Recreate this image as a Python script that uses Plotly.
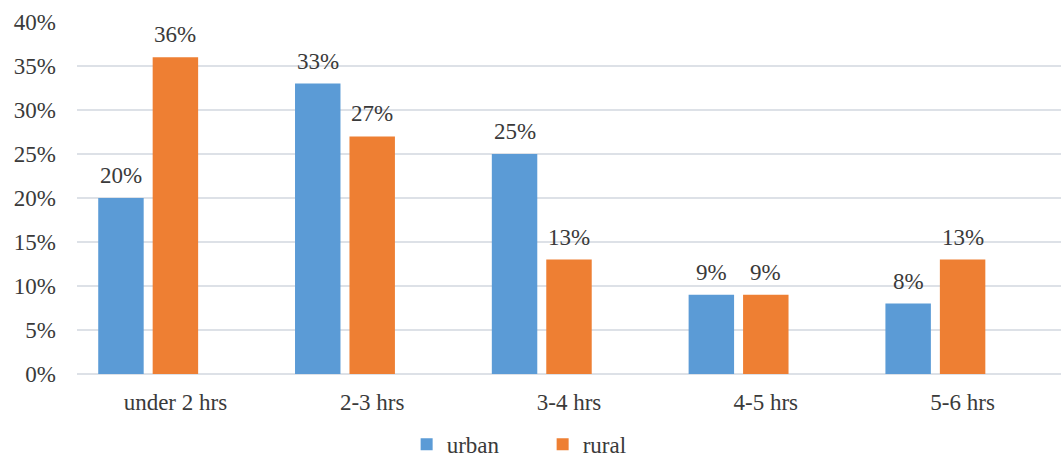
import plotly.graph_objects as go

# Daily screen time by location (share of respondents, %)
categories = ["under 2 hrs", "2-3 hrs", "3-4 hrs", "4-5 hrs", "5-6 hrs"]
urban = [20, 33, 25, 9, 8]
rural = [36, 27, 13, 9, 13]
y_ticks = [0, 5, 10, 15, 20, 25, 30, 35, 40]

FONT = "Times New Roman, Liberation Serif, DejaVu Serif, serif"
SIZE = 23
TEXT = "#3a3a3a"
GRID = "#dde1e7"
BLUE = "#5b9bd6"
ORANGE = "#ee7f33"

BARGAP = 0.17
GROUPGAP = 0.165
N_SLOTS = 3  # chart keeps a third (empty) series slot in each group
slot = (1 - BARGAP) / N_SLOTS

fig = go.Figure()
fig.add_trace(go.Bar(x=categories, y=urban, name="urban", marker_color=BLUE,
                     marker_line_width=0))
fig.add_trace(go.Bar(x=categories, y=rural, name="rural", marker_color=ORANGE,
                     marker_line_width=0))
fig.add_trace(go.Bar(x=categories, y=[None] * len(categories), name="",
                     showlegend=False, hoverinfo="skip"))

# value labels above each bar
annotations = []
for i in range(len(categories)):
    for offset, vals in ((-slot, urban), (0.0, rural)):
        annotations.append(dict(
            x=i + offset, y=vals[i], xref="x", yref="y",
            text=f"{vals[i]}%", showarrow=False, yanchor="bottom", yshift=8,
            font=dict(family=FONT, size=SIZE, color=TEXT),
        ))

fig.update_layout(
    width=1061, height=457,
    margin=dict(l=77, r=0, t=22, b=83, autoexpand=False),
    paper_bgcolor="white", plot_bgcolor="white",
    barmode="group", bargap=BARGAP, bargroupgap=GROUPGAP,
    font=dict(family=FONT, size=SIZE, color=TEXT),
    annotations=annotations,
    showlegend=True,
    legend=dict(orientation="h", x=0.335, xanchor="left", y=-0.2,
                yanchor="middle", entrywidth=91,
                font=dict(family=FONT, size=SIZE, color=TEXT),
                bgcolor="rgba(0,0,0,0)"),
)
fig.update_xaxes(showgrid=False, showline=False, ticks="", zeroline=False,
                 automargin=False, ticklabelstandoff=12,
                 tickfont=dict(family=FONT, size=SIZE, color=TEXT))
fig.update_yaxes(range=[0, 40], tickvals=y_ticks,
                 ticktext=[f"{v}%" for v in y_ticks],
                 showgrid=True, gridcolor=GRID, gridwidth=1.5,
                 zeroline=True, zerolinecolor=GRID, zerolinewidth=1.5,
                 showline=False, ticks="", automargin=False,
                 ticklabelstandoff=20,
                 tickfont=dict(family=FONT, size=SIZE, color=TEXT))

fig.write_html("out.html")
